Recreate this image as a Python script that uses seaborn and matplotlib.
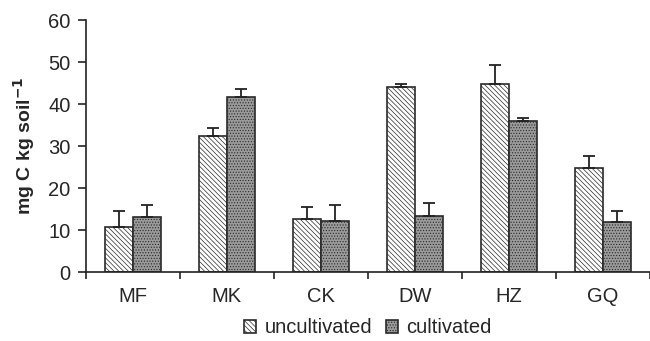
import pandas as pd
import matplotlib.pyplot as plt
import seaborn as sns
import numpy as np

sns.set_theme(style="white")
plt.rcParams['font.family'] = ['Liberation Sans', 'DejaVu Sans']
plt.rcParams['hatch.linewidth'] = 0.5

sites = ['MF', 'MK', 'CK', 'DW', 'HZ', 'GQ']
treatments = ['uncultivated', 'cultivated']
uncultivated = [10.8, 32.3, 12.6, 44.0, 44.8, 24.8]
cultivated = [13.2, 41.7, 12.1, 13.4, 35.9, 11.8]
err_uncultivated = [3.8, 2.0, 3.0, 0.8, 4.6, 2.9]
err_cultivated = [2.8, 1.9, 3.9, 3.1, 0.8, 2.8]

df = pd.DataFrame({
    'site': sites * 2,
    'treatment': ['uncultivated'] * 6 + ['cultivated'] * 6,
    'value': uncultivated + cultivated,
    'err': err_uncultivated + err_cultivated,
})

fig = plt.figure(figsize=(6.5, 3.41), dpi=100)
ax = fig.add_axes([0.132, 0.2023, 0.868, 0.7387])

sns.barplot(data=df, x='site', y='value', hue='treatment', order=sites,
            hue_order=treatments, errorbar=None, width=0.6, gap=0,
            palette={'uncultivated': 'white', 'cultivated': '#9a9a9a'},
            edgecolor='#2a2a2a', linewidth=1.2, ax=ax, legend=True)

hatches = {'uncultivated': '\\\\\\\\\\\\\\', 'cultivated': '......'}
for cont, t in zip(ax.containers, treatments):
    sub = df[df['treatment'] == t].set_index('site').loc[sites]
    for bar in cont:
        bar.set_hatch(hatches[t])
    xs = [b.get_x() + b.get_width() / 2 for b in cont]
    ax.errorbar(xs, sub['value'], yerr=[np.zeros(len(xs)), sub['err']],
                fmt='none', ecolor='#222222', elinewidth=1.3, capsize=4,
                capthick=1.3, zorder=1)

for h, t in zip(ax.get_legend().legend_handles, treatments):
    h.set_hatch(hatches[t])
ax.legend(ax.get_legend().legend_handles, treatments, loc='center',
          bbox_to_anchor=(0.5, -0.222), ncol=2, frameon=False, fontsize=14.5,
          handlelength=0.6, handleheight=0.6, handletextpad=0.4,
          columnspacing=0.7, borderaxespad=0, borderpad=0)

ax.set_ylim(0, 60)
ax.set_yticks(range(0, 61, 10))
ax.set_xlim(-0.5, 5.44)
ax.set_xticks(range(len(sites)))
ax.set_xticklabels(sites)
ax.set_xticks(np.arange(-0.5, 6, 1), minor=True)
ax.tick_params(axis='x', which='major', length=0, pad=11, labelsize=14.5)
ax.tick_params(axis='x', which='minor', length=5, width=1.2, direction='out',
               bottom=True, color='#222222')
ax.tick_params(axis='y', length=6, width=1.2, direction='out', left=True,
               pad=5, labelsize=14.5, color='#222222')
ax.set_xlabel('')
ax.set_ylabel('mg C kg soil$^{\\mathbf{-1}}$', fontsize=14, fontweight='bold',
              labelpad=8)

for s in ['top', 'right']:
    ax.spines[s].set_visible(False)
for s in ['left', 'bottom']:
    ax.spines[s].set_color('#222222')
    ax.spines[s].set_linewidth(1.2)

plt.savefig('out.png', dpi=100)
